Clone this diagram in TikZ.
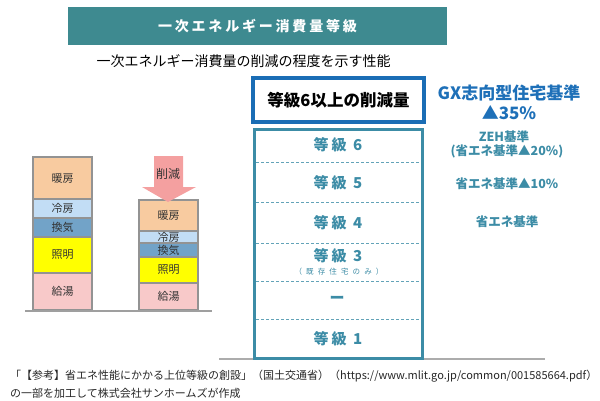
\documentclass[tikz,border=0pt]{standalone}
\usepackage{fontspec}
\setmainfont{Noto Sans CJK JP}
\newfontfamily\spacedfont[LetterSpace=20]{Noto Sans CJK JP}
\newfontfamily\widefont[LetterSpace=55]{Noto Sans CJK JP}

\definecolor{titleteal}{HTML}{3E8A90}
\definecolor{gradeteal}{HTML}{3C8CA6}
\definecolor{gxblue}{HTML}{1E70B8}
\definecolor{boxblue}{HTML}{1A6DB5}
\definecolor{cutred}{HTML}{F4A0A0}
\definecolor{heat}{HTML}{F8CBA0}
\definecolor{cool}{HTML}{C2DDF5}
\definecolor{vent}{HTML}{72A3C8}
\definecolor{light}{HTML}{FFFF00}
\definecolor{water}{HTML}{F8C9C9}

\begin{document}
\begin{tikzpicture}[x=1pt, y=-1pt,
  lbl/.style={font=\fontsize{11}{13}\selectfont, text=black!80},
  seg/.style={draw=gray!85, line width=1.2pt},
  grade/.style={font=\spacedfont\fontsize{15}{17}\selectfont\bfseries, text=gradeteal},
  note/.style={font=\fontsize{12.5}{15}\selectfont\bfseries, text=gradeteal},
  src/.style={anchor=west, inner sep=0pt, font=\fontsize{11}{13}\selectfont, text=black!85},
  divider/.style={gradeteal!80, dashed, dash pattern=on 3pt off 2pt, line width=0.8pt}]
  \useasboundingbox (0,0) rectangle (600,400);
  % heading bar and subtitle
  \node[fill=titleteal, minimum width=379pt, minimum height=38pt, inner sep=0pt,
        text=white, font=\spacedfont\fontsize{14}{16}\selectfont\bfseries] (title) at (257.5,26) {一次エネルギー消費量等級};
  \node[font=\fontsize{14}{16}\selectfont] (sub) at (243.5,61) {一次エネルギー消費量の削減の程度を示す性能};

  % energy use stacks, before and after
  \foreach \name/\ya/\yb/\col [count=\i] in {暖房/157/199/heat, 冷房/199/218/cool, 換気/218/237/vent, 照明/237/273/light, 給湯/273/310/water} {
    \draw[seg, fill=\col] (33,\ya) rectangle (92,\yb);
    \node[lbl] (a\i) at (62.5,{(\ya+\yb)/2}) {\name};
  }
  \foreach \name/\ya/\yb/\col [count=\i] in {暖房/200/231/heat, 冷房/231/243/cool, 換気/243/257/vent, 照明/257/283/light, 給湯/283/310/water} {
    \draw[seg, fill=\col] (139,\ya) rectangle (198,\yb);
    \node[lbl] (b\i) at (168.5,{(\ya+\yb)/2}) {\name};
  }
  \draw[gray!75, line width=2.5pt] (25,311) -- (212,311);
  \fill[cutred] (154,156) -- (183,156) -- (183,187) -- (196,187) -- (168,202) -- (142,187) -- (154,187) -- cycle;
  \node[lbl, font=\fontsize{12}{14}\selectfont] (cut) at (168,174) {削減};

  % grade table
  \draw[gray!65, line width=2.5pt] (219,359) -- (545,359);
  \node[draw=boxblue, line width=4pt, minimum width=171pt, minimum height=44pt,
        font=\fontsize{16.5}{18}\selectfont\bfseries] (goal) at (338.5,100) {等級6以上の削減量};
  \fill[white] (254.5,129.5) rectangle (422.5,358.5);
  \foreach \y in {162,202,243,281,319}
    \draw[divider] (256,\y) -- (421,\y);
  \draw[gradeteal, line width=3pt] (254.5,129.5) rectangle (422.5,358.5);
  \node[grade] (g6) at (338,145) {等級 6};
  \node[grade] (g5) at (338,183) {等級 5};
  \node[grade] (g4) at (338,223) {等級 4};
  \node[grade] (g3) at (338,256) {等級 3};
  \node[font=\widefont\fontsize{7.5}{9}\selectfont, text=gradeteal] (g3n) at (339,272) {（既存住宅のみ）};
  \node[grade] (g2) at (337,300) {ー};
  \node[grade] (g1) at (338,339) {等級 1};

  % standards beside the grades
  \node[font=\fontsize{17}{19}\selectfont\bfseries, text=gxblue] (gx) at (509,93) {GX志向型住宅基準};
  \node[font=\fontsize{17}{19}\selectfont\bfseries, text=gxblue] (gxp) at (509,113) {▲35\%};
  \node[note] (zeh) at (504,137) {ZEH基準};
  \node[note] (zehp) at (507,151) {(省エネ基準▲20\%)};
  \node[note] (s10) at (507,184) {省エネ基準▲10\%};
  \node[note] (s0) at (507,222) {省エネ基準};

  % source
  \node[src] (src1) at (10,376) {「【参考】省エネ性能にかかる上位等級の創設」（国土交通省）（https://www.mlit.go.jp/common/001585664.pdf）};
  \node[src] (src2) at (10,393) {の一部を加工して株式会社サンホームズが作成};
\end{tikzpicture}
\end{document}
